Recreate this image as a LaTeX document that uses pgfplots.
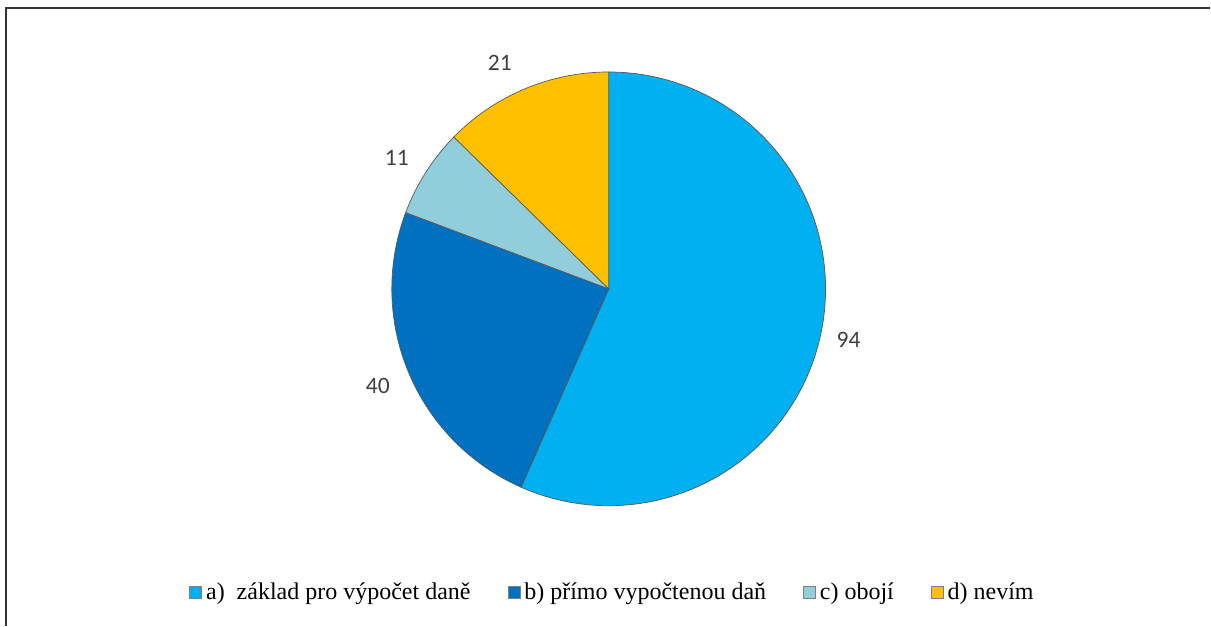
\documentclass[border=0pt]{standalone}
\usepackage{fontspec}
\setmainfont{Liberation Serif}
\newfontfamily\labelfont{Carlito}
\usepackage{pgfplots}
\pgfplotsset{compat=1.18}
\definecolor{sliceA}{HTML}{00B0F0}
\definecolor{sliceB}{HTML}{0070C0}
\definecolor{sliceC}{HTML}{92CDDC}
\definecolor{sliceD}{HTML}{FFC000}
\definecolor{lbl}{HTML}{404040}
% values
\def\vA{94}\def\vB{40}\def\vC{11}\def\vD{21}
\pgfmathsetmacro{\tot}{\vA+\vB+\vC+\vD}
\pgfmathsetmacro{\aA}{90}
\pgfmathsetmacro{\aB}{\aA-\vA/\tot*360}
\pgfmathsetmacro{\aC}{\aB-\vB/\tot*360}
\pgfmathsetmacro{\aD}{\aC-\vC/\tot*360}
\pgfmathsetmacro{\aE}{\aD-\vD/\tot*360}
\def\R{217}
\begin{document}
\begin{tikzpicture}
\begin{axis}[
  x=1pt, y=1pt,
  xmin=-609, xmax=602, ymin=-337, ymax=289,
  hide axis, clip=false, scale only axis,
  area legend,
  legend image code/.code={\draw[#1, draw=gray, line width=0.8pt] (0pt,-6pt) rectangle (12pt,6pt);},
  legend style={draw=none, fill=none, at={(0.506,0.054)}, anchor=center,
    legend columns=4, font=\fontsize{24}{28}\selectfont,
    /tikz/every odd column/.append style={column sep=2pt},
    /tikz/every even column/.append style={column sep=35pt},
    nodes={inner sep=2pt}},
]
\path (axis cs:-609,-337) rectangle (axis cs:602,289);
\addplot[fill=sliceA, draw=black!65, line width=0.7pt, domain=\aA:\aB, samples=90] ({\R*cos(x)}, {\R*sin(x)}) -- (axis cs:0,0) -- cycle;
\addlegendentry{a)~ základ pro výpočet daně}
\addplot[fill=sliceB, draw=black!65, line width=0.7pt, domain=\aB:\aC, samples=50] ({\R*cos(x)}, {\R*sin(x)}) -- (axis cs:0,0) -- cycle;
\addlegendentry{b) přímo vypočtenou daň}
\addplot[fill=sliceC, draw=black!65, line width=0.7pt, domain=\aC:\aD, samples=20] ({\R*cos(x)}, {\R*sin(x)}) -- (axis cs:0,0) -- cycle;
\addlegendentry{c) obojí}
\addplot[fill=sliceD, draw=black!65, line width=0.7pt, domain=\aD:\aE, samples=30] ({\R*cos(x)}, {\R*sin(x)}) -- (axis cs:0,0) -- cycle;
\addlegendentry{d) nevím}
\begin{scope}[every node/.style={font=\labelfont\fontsize{23.5}{27}\selectfont, text=lbl}]
\node at (axis cs:240,-51) {\vA};
\node at (axis cs:-231,-97) {\vB};
\node at (axis cs:-212,131) {\vC};
\node at (axis cs:-109,226) {\vD};
\end{scope}
\draw[black!80, line width=1.2pt] (axis cs:-603,-337) -- (axis cs:-603,281) -- (axis cs:602,281);
\end{axis}
\end{tikzpicture}
\end{document}
